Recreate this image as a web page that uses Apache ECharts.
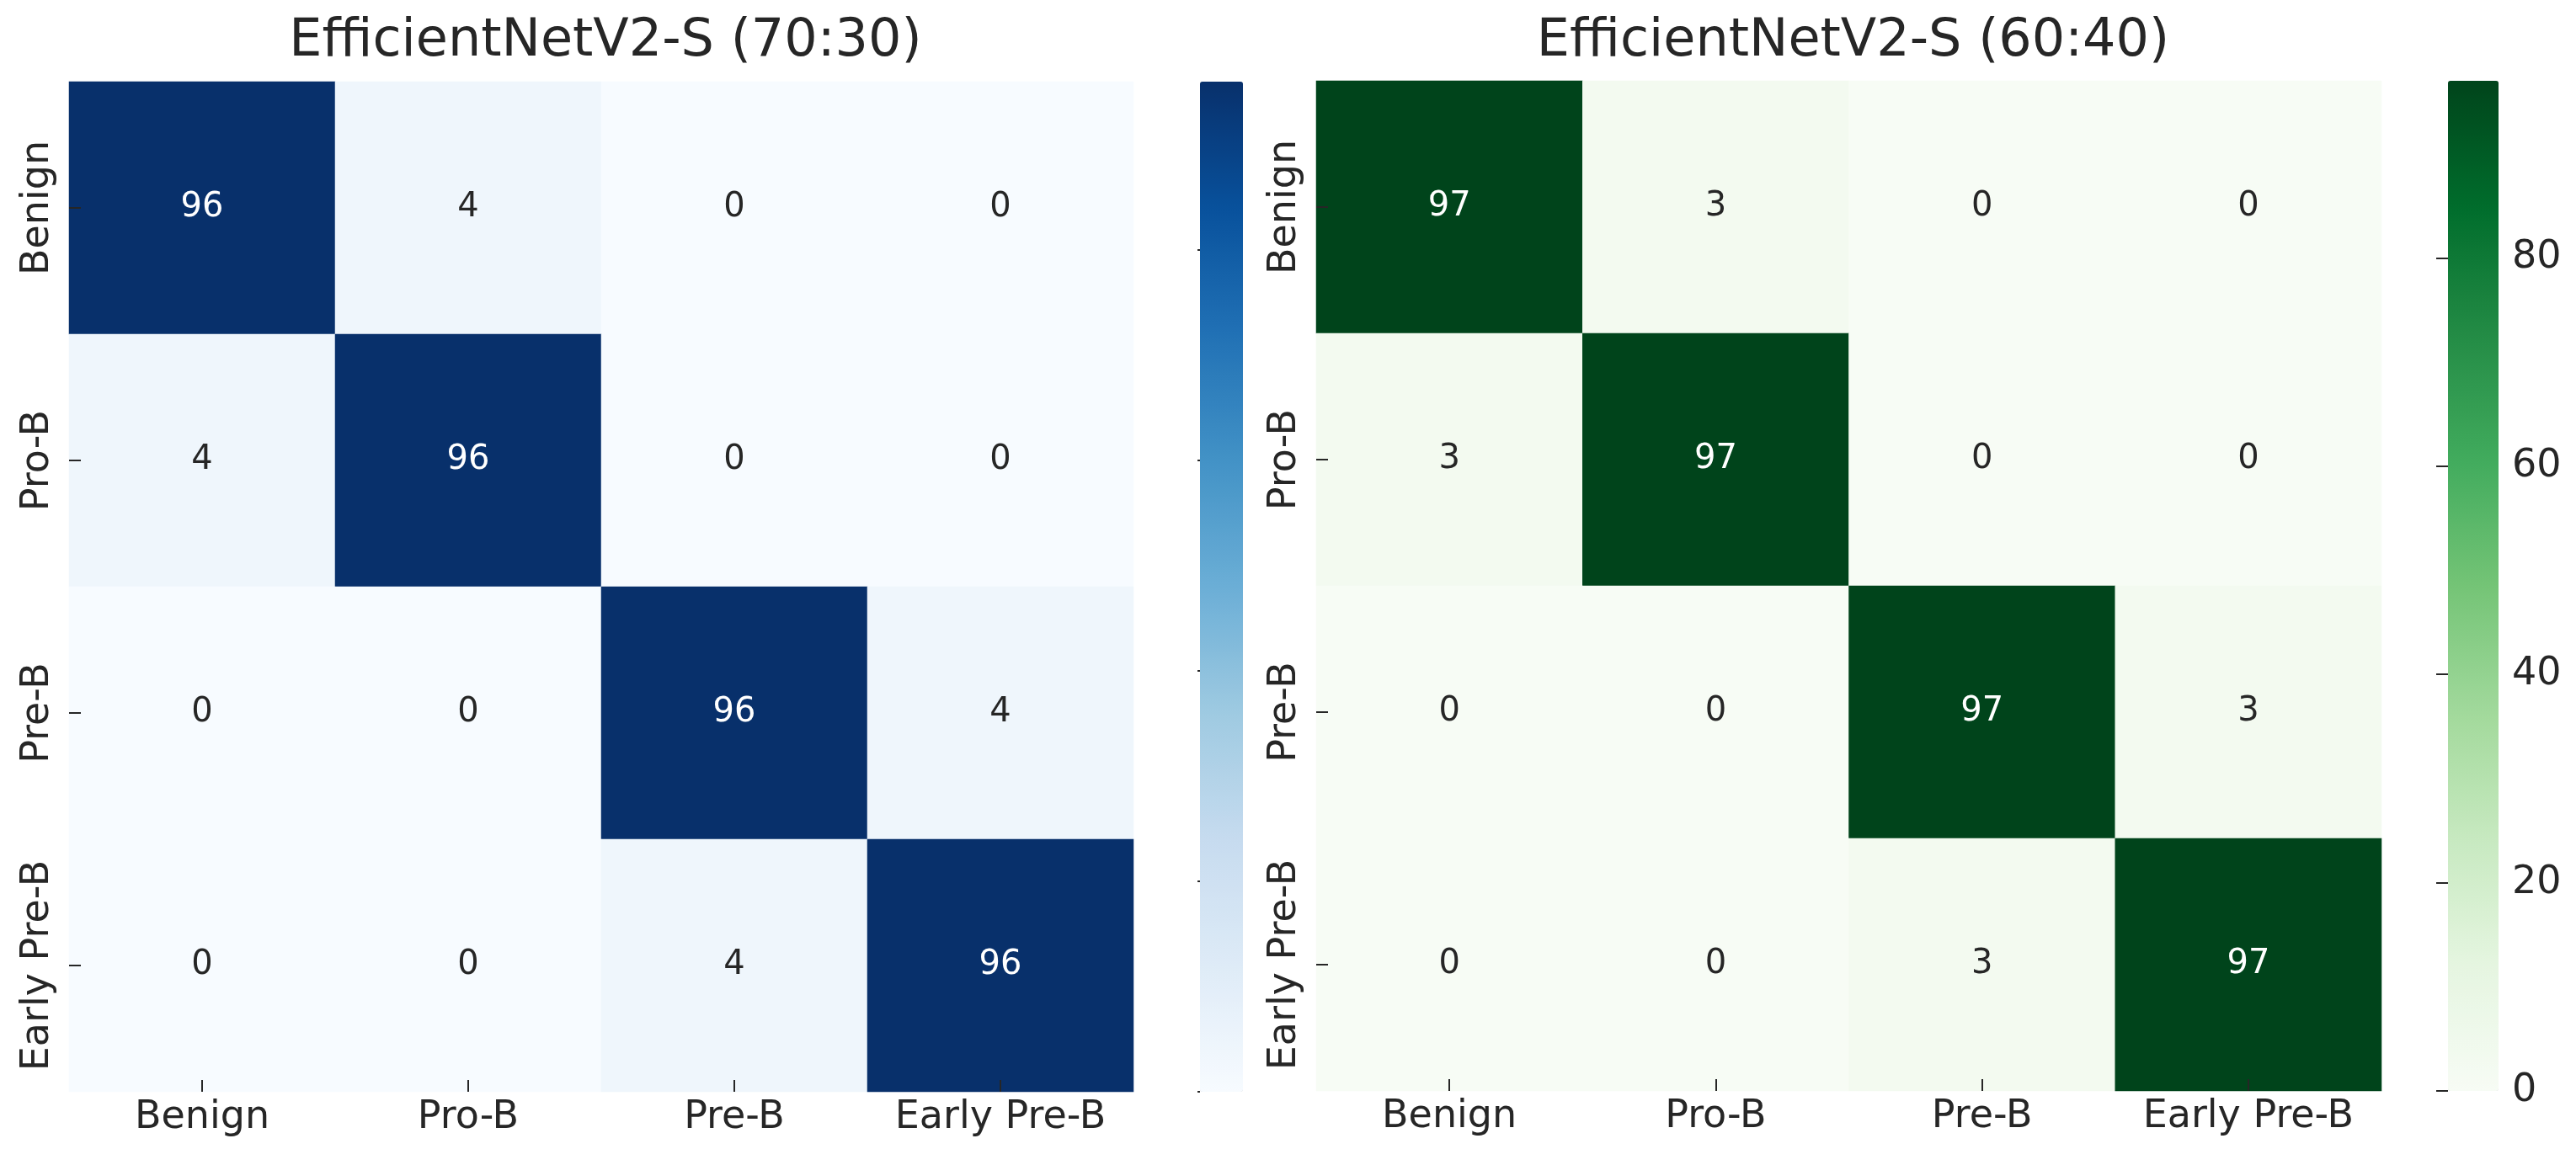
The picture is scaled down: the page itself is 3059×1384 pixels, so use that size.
<!DOCTYPE html>
<html>
<head>
<meta charset="utf-8">
<script src="https://cdn.jsdelivr.net/npm/echarts@6/dist/echarts.min.js"></script>
<style>
  html, body { margin: 0; padding: 0; background: #fff; }
  #main { width: 3059px; height: 1384px; }
</style>
</head>
<body>
<div id="main"></div>
<script>
// class labels (same order on both axes)
var classes = ['Benign', 'Pro-B', 'Pre-B', 'Early Pre-B'];

// confusion matrices, rows = true class, cols = predicted
var cm7030 = [
    [96, 4, 0, 0],
    [4, 96, 0, 0],
    [0, 0, 96, 4],
    [0, 0, 4, 96]
];
var cm6040 = [
    [97, 3, 0, 0],
    [3, 97, 0, 0],
    [0, 0, 97, 3],
    [0, 0, 3, 97]
];

var titles = ['EfficientNetV2-S (70:30)', 'EfficientNetV2-S (60:40)'];
var cbarMax = [96, 97];
var cbarTicks = [0, 20, 40, 60, 80];

var blues = ['#f7fbff', '#deebf7', '#c6dbef', '#9ecae1', '#6baed6', '#4292c6', '#2171b5', '#08519c', '#08306b'];
var greens = ['#f7fcf5', '#e5f5e0', '#c7e9c0', '#a1d99b', '#74c476', '#41ab5d', '#238b45', '#006d2c', '#00441b'];

var txt = '#262626';
var font = 'DejaVu Sans';

function toCells(m) {
    var out = [];
    for (var r = 0; r < m.length; r++) {
        for (var c = 0; c < m[r].length; c++) {
            out.push({
                value: [c, r, m[r][c]],
                label: { color: m[r][c] > 50 ? '#ffffff' : txt }
            });
        }
    }
    return out;
}

var myChart = echarts.init(document.getElementById('main'));

// panel geometry
var grids = [
    { left: 82, top: 97, width: 1264, height: 1200 },
    { left: 1563, top: 96, width: 1265, height: 1200 },
    // colorbars
    { left: 1425, top: 97, width: 51, height: 1200 },
    { left: 2907, top: 96, width: 60, height: 1200 }
];

var option = {
    backgroundColor: '#ffffff',
    animation: false,
    textStyle: { fontFamily: font },
    title: [0, 1].map(function (i) {
        return {
            text: titles[i],
            left: grids[i].left + grids[i].width / 2,
            textAlign: 'center',
            top: 14,
            textStyle: { fontFamily: font, fontSize: 62, fontWeight: 'normal', color: txt }
        };
    }),
    grid: grids,
    xAxis: [0, 1].map(function (i) {
        return {
            type: 'category',
            gridIndex: i,
            data: classes,
            z: 10,
            axisLine: { show: false },
            axisTick: { show: true, inside: true, length: 14, interval: 0, alignWithLabel: true, lineStyle: { color: txt, width: 2 } },
            axisLabel: { fontFamily: font, fontSize: 46, color: txt, margin: 8, interval: 0 },
            splitLine: { show: false }
        };
    }).concat([2, 3].map(function (i) {
        return { type: 'value', gridIndex: i, show: false, min: 0, max: 1 };
    })),
    yAxis: [0, 1].map(function (i) {
        return {
            type: 'category',
            gridIndex: i,
            data: classes,
            inverse: true,
            z: 10,
            axisLine: { show: false },
            axisTick: { show: true, inside: true, length: 14, interval: 0, alignWithLabel: true, lineStyle: { color: txt, width: 2 } },
            axisLabel: { fontFamily: font, fontSize: 46, color: txt, rotate: 90, margin: 14, interval: 0 },
            splitLine: { show: false }
        };
    }).concat([2, 3].map(function (i) {
        return {
            type: 'value',
            gridIndex: i,
            position: 'right',
            min: 0,
            max: cbarMax[i - 2],
            interval: 20,
            z: 10,
            axisLine: { show: false },
            axisTick: {
                show: true, inside: true, length: i === 2 ? 3 : 14,
                customValues: cbarTicks,
                lineStyle: { color: txt, width: 2 }
            },
            axisLabel: {
                show: i === 3,
                customValues: cbarTicks,
                fontFamily: font, fontSize: 46, color: txt, margin: 16
            },
            splitLine: { show: false }
        };
    })),
    visualMap: [0, 1].map(function (i) {
        var g = grids[i + 2];
        return {
            type: 'continuous',
            seriesIndex: i,
            dimension: 2,
            min: 0,
            max: cbarMax[i],
            calculable: false,
            hoverLink: false,
            orient: 'vertical',
            left: g.left,
            top: g.top,
            padding: 0,
            itemWidth: g.width,
            itemHeight: g.height,
            text: null,
            showLabel: false,
            inRange: { color: i === 0 ? blues : greens }
        };
    }),
    series: [
        {
            type: 'heatmap',
            xAxisIndex: 0,
            yAxisIndex: 0,
            data: toCells(cm7030),
            label: { show: true, fontFamily: font, fontSize: 40, formatter: function (p) { return p.value[2]; } },
            itemStyle: { borderWidth: 0 }
        },
        {
            type: 'heatmap',
            xAxisIndex: 1,
            yAxisIndex: 1,
            data: toCells(cm6040),
            label: { show: true, fontFamily: font, fontSize: 40, formatter: function (p) { return p.value[2]; } },
            itemStyle: { borderWidth: 0 }
        }
    ]
};

myChart.setOption(option);
</script>
</body>
</html>
